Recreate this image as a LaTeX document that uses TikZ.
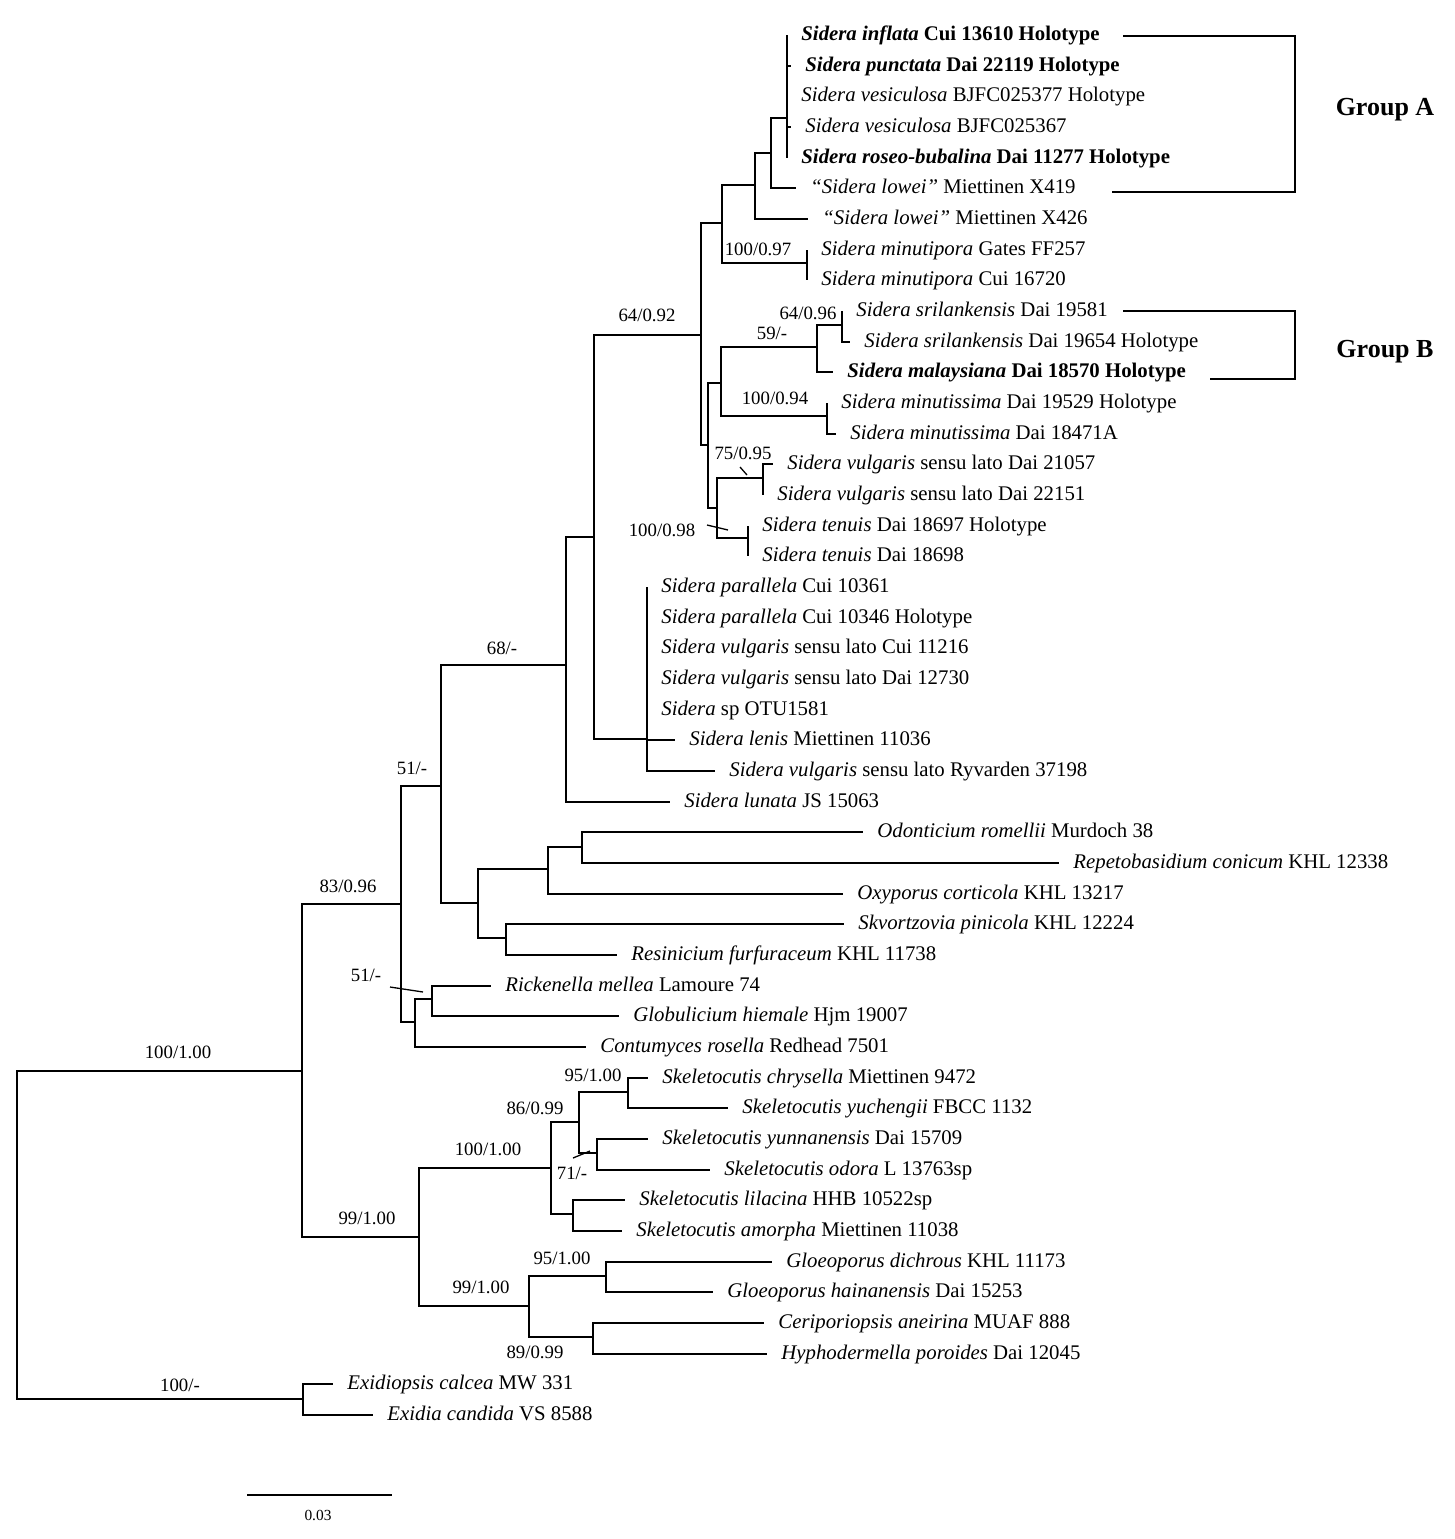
\documentclass[tikz,border=0pt]{standalone}
\usepackage{fontspec}
\setmainfont{Liberation Serif}
\begin{document}
\begin{tikzpicture}[x=0.5pt,y=-0.5pt,
    branch/.style={line width=0.65pt},
    leaf/.style={anchor=west,inner xsep=7pt,inner ysep=0pt,text height=7.5pt,text depth=2.2pt,font=\fontsize{10.4}{12}\selectfont},
    bs/.style={inner sep=0pt,font=\fontsize{9.4}{11}\selectfont},
    grp/.style={line width=1.4pt},
    ]
    \useasboundingbox (0,0) rectangle (1455,1539);
    % leaves
    \node[leaf] (l1) at (787,35) {\textbf{\textit{Sidera inflata} Cui 13610 Holotype}};
    \node[leaf] (l2) at (791,66) {\textbf{\textit{Sidera punctata} Dai 22119 Holotype}};
    \node[leaf] (l3) at (787,96) {\textit{Sidera vesiculosa} BJFC025377 Holotype};
    \node[leaf] (l4) at (791,127) {\textit{Sidera vesiculosa} BJFC025367};
    \node[leaf] (l5) at (787,158) {\textbf{\textit{Sidera roseo-bubalina} Dai 11277 Holotype}};
    \node[leaf] (l6) at (796,188) {\textit{“Sidera lowei”} Miettinen X419};
    \node[leaf] (l7) at (808,219) {\textit{“Sidera lowei”} Miettinen X426};
    \node[leaf] (l8) at (807,250) {\textit{Sidera minutipora} Gates FF257};
    \node[leaf] (l9) at (807,280) {\textit{Sidera minutipora} Cui 16720};
    \node[leaf] (l10) at (842,311) {\textit{Sidera srilankensis} Dai 19581};
    \node[leaf] (l11) at (850,342) {\textit{Sidera srilankensis} Dai 19654 Holotype};
    \node[leaf] (l12) at (833,372) {\textbf{\textit{Sidera malaysiana} Dai 18570 Holotype}};
    \node[leaf] (l13) at (827,403) {\textit{Sidera minutissima} Dai 19529 Holotype};
    \node[leaf] (l14) at (836,434) {\textit{Sidera minutissima} Dai 18471A};
    \node[leaf] (l15) at (773,464) {\textit{Sidera vulgaris} sensu lato Dai 21057};
    \node[leaf] (l16) at (763,495) {\textit{Sidera vulgaris} sensu lato Dai 22151};
    \node[leaf] (l17) at (748,526) {\textit{Sidera tenuis} Dai 18697 Holotype};
    \node[leaf] (l18) at (748,556) {\textit{Sidera tenuis} Dai 18698};
    \node[leaf] (l19) at (647,587) {\textit{Sidera parallela} Cui 10361};
    \node[leaf] (l20) at (647,618) {\textit{Sidera parallela} Cui 10346 Holotype};
    \node[leaf] (l21) at (647,648) {\textit{Sidera vulgaris} sensu lato Cui 11216};
    \node[leaf] (l22) at (647,679) {\textit{Sidera vulgaris} sensu lato Dai 12730};
    \node[leaf] (l23) at (647,710) {\textit{Sidera} sp OTU1581};
    \node[leaf] (l24) at (675,740) {\textit{Sidera lenis} Miettinen 11036};
    \node[leaf] (l25) at (715,771) {\textit{Sidera vulgaris} sensu lato Ryvarden 37198};
    \node[leaf] (l26) at (670,802) {\textit{Sidera lunata} JS 15063};
    \node[leaf] (l27) at (863,832) {\textit{Odonticium romellii} Murdoch 38};
    \node[leaf] (l28) at (1059,863) {\textit{Repetobasidium conicum} KHL 12338};
    \node[leaf] (l29) at (843,894) {\textit{Oxyporus corticola} KHL 13217};
    \node[leaf] (l30) at (844,924) {\textit{Skvortzovia pinicola} KHL 12224};
    \node[leaf] (l31) at (617,955) {\textit{Resinicium furfuraceum} KHL 11738};
    \node[leaf] (l32) at (491,986) {\textit{Rickenella mellea} Lamoure 74};
    \node[leaf] (l33) at (619,1016) {\textit{Globulicium hiemale} Hjm 19007};
    \node[leaf] (l34) at (586,1047) {\textit{Contumyces rosella} Redhead 7501};
    \node[leaf] (l35) at (648,1078) {\textit{Skeletocutis chrysella} Miettinen 9472};
    \node[leaf] (l36) at (728,1108) {\textit{Skeletocutis yuchengii} FBCC 1132};
    \node[leaf] (l37) at (648,1139) {\textit{Skeletocutis yunnanensis} Dai 15709};
    \node[leaf] (l38) at (710,1170) {\textit{Skeletocutis odora} L 13763sp};
    \node[leaf] (l39) at (625,1200) {\textit{Skeletocutis lilacina} HHB 10522sp};
    \node[leaf] (l40) at (622,1231) {\textit{Skeletocutis amorpha} Miettinen 11038};
    \node[leaf] (l41) at (772,1262) {\textit{Gloeoporus dichrous} KHL 11173};
    \node[leaf] (l42) at (713,1292) {\textit{Gloeoporus hainanensis} Dai 15253};
    \node[leaf] (l43) at (764,1323) {\textit{Ceriporiopsis aneirina} MUAF 888};
    \node[leaf] (l44) at (767,1354) {\textit{Hyphodermella poroides} Dai 12045};
    \node[leaf] (l45) at (333,1384) {\textit{Exidiopsis calcea} MW 331};
    \node[leaf] (l46) at (373,1415) {\textit{Exidia candida} VS 8588};
    % internal nodes
    \coordinate (root) at (17,1235);
    \coordinate (nA) at (302,1071);
    \coordinate (nX) at (303,1399);
    \coordinate (nB) at (401,904);
    \coordinate (nP) at (415,1022);
    \coordinate (nQ) at (432,999);
    \coordinate (nC) at (441,786);
    \coordinate (nH) at (478,903);
    \coordinate (nI) at (548,869);
    \coordinate (nK) at (582,847);
    \coordinate (nJ) at (506,938);
    \coordinate (nD) at (566,665);
    \coordinate (nE) at (594,537);
    \coordinate (nG) at (647,739);
    \coordinate (nF) at (701,335);
    \coordinate (nM) at (722,223);
    \coordinate (nT) at (755,185);
    \coordinate (nV) at (771,153);
    \coordinate (nW) at (787,118);
    \coordinate (nU) at (807,263);
    \coordinate (nN) at (708,445);
    \coordinate (nO) at (721,383);
    \coordinate (nZ) at (817,347);
    \coordinate (nAB) at (842,325);
    \coordinate (nAA) at (827,416);
    \coordinate (nY) at (717,508);
    \coordinate (nAC) at (763,478);
    \coordinate (nAD) at (748,538);
    \coordinate (nS) at (419,1237);
    \coordinate (nSA) at (551,1168);
    \coordinate (nSC) at (579,1122);
    \coordinate (nSE) at (628,1092);
    \coordinate (nSF) at (597,1153);
    \coordinate (nSD) at (573,1214);
    \coordinate (nSB) at (529,1306);
    \coordinate (nSG) at (606,1276);
    \coordinate (nSH) at (593,1337);
    % branches
    \draw[branch] (root) |- (nA) (root) |- (nX);
    \draw[branch] (nX) |- (l45.west) (nX) |- (l46.west);
    \draw[branch] (nA) |- (nB) (nA) |- (nS);
    \draw[branch] (nB) |- (nC) (nB) |- (nP);
    \draw[branch] (nP) |- (nQ) (nP) |- (l34.west);
    \draw[branch] (nQ) |- (l32.west) (nQ) |- (l33.west);
    \draw[branch] (nC) |- (nD) (nC) |- (nH);
    \draw[branch] (nH) |- (nI) (nH) |- (nJ);
    \draw[branch] (nI) |- (nK) (nI) |- (l29.west);
    \draw[branch] (nK) |- (l27.west) (nK) |- (l28.west);
    \draw[branch] (nJ) |- (l30.west) (nJ) |- (l31.west);
    \draw[branch] (nD) |- (nE) (nD) |- (l26.west);
    \draw[branch] (nE) |- (nF) (nE) |- (nG);
    \draw[branch] (nG) |- (l19.west) (nG) |- (l20.west) (nG) |- (l21.west) (nG) |- (l22.west)
        (nG) |- (l23.west) (nG) |- (l24.west) (nG) |- (l25.west);
    \draw[branch] (nF) |- (nM) (nF) |- (nN);
    \draw[branch] (nM) |- (nT) (nM) |- (nU);
    \draw[branch] (nU) |- (l8.west) (nU) |- (l9.west);
    \draw[branch] (nT) |- (nV) (nT) |- (l7.west);
    \draw[branch] (nV) |- (nW) (nV) |- (l6.west);
    \draw[branch] (nW) |- (l1.west) (nW) |- (l2.west) (nW) |- (l3.west) (nW) |- (l4.west) (nW) |- (l5.west);
    \draw[branch] (nN) |- (nO) (nN) |- (nY);
    \draw[branch] (nO) |- (nZ) (nO) |- (nAA);
    \draw[branch] (nZ) |- (nAB) (nZ) |- (l12.west);
    \draw[branch] (nAB) |- (l10.west) (nAB) |- (l11.west);
    \draw[branch] (nAA) |- (l13.west) (nAA) |- (l14.west);
    \draw[branch] (nY) |- (nAC) (nY) |- (nAD);
    \draw[branch] (nAC) |- (l15.west) (nAC) |- (l16.west);
    \draw[branch] (nAD) |- (l17.west) (nAD) |- (l18.west);
    \draw[branch] (nS) |- (nSA) (nS) |- (nSB);
    \draw[branch] (nSA) |- (nSC) (nSA) |- (nSD);
    \draw[branch] (nSC) |- (nSE) (nSC) |- (nSF);
    \draw[branch] (nSE) |- (l35.west) (nSE) |- (l36.west);
    \draw[branch] (nSF) |- (l37.west) (nSF) |- (l38.west);
    \draw[branch] (nSD) |- (l39.west) (nSD) |- (l40.west);
    \draw[branch] (nSB) |- (nSG) (nSB) |- (nSH);
    \draw[branch] (nSG) |- (l41.west) (nSG) |- (l42.west);
    \draw[branch] (nSH) |- (l43.west) (nSH) |- (l44.west);
    % support values
    \node[bs] (sA) at (178,1052) {100/1.00};
    \node[bs] (sX) at (180,1385) {100/-};
    \node[bs] (sB) at (348,886) {83/0.96};
    \node[bs] (sC) at (412,768) {51/-};
    \node[bs] (sD) at (502,648) {68/-};
    \node[bs] (sF) at (647,315) {64/0.92};
    \node[bs] (sU) at (758,249) {100/0.97};
    \node[bs] (sAB) at (808,313) {64/0.96};
    \node[bs] (sZ) at (772,333) {59/-};
    \node[bs] (sAA) at (775,398) {100/0.94};
    \node[bs] (sAC) at (743,453) {75/0.95};
    \node[bs] (sAD) at (662,530) {100/0.98};
    \node[bs] (sQ) at (366,975) {51/-};
    \node[bs] (sSE) at (593,1075) {95/1.00};
    \node[bs] (sSC) at (535,1108) {86/0.99};
    \node[bs] (sSA) at (488,1149) {100/1.00};
    \node[bs] (sSF) at (572,1173) {71/-};
    \node[bs] (sS) at (367,1218) {99/1.00};
    \node[bs] (sSB) at (481,1287) {99/1.00};
    \node[bs] (sSG) at (562,1258) {95/1.00};
    \node[bs] (sSH) at (535,1352) {89/0.99};
    \draw[branch] (740,467) -- (747,475);
    \draw[branch] (707,525) -- (728,530);
    \draw[branch] (390,987) -- (423,992);
    \draw[branch] (573,1158) -- (590,1151);
    % groups
    \draw[grp] (1123,36) -- (1295,36) -- (1295,192) -- (1112,192);
    \draw[grp] (1123,311) -- (1295,311) -- (1295,379) -- (1210,379);
    \node[font=\fontsize{13}{15}\selectfont\bfseries] (gA) at (1385,110) {Group A};
    \node[font=\fontsize{13}{15}\selectfont\bfseries] (gB) at (1385,352) {Group B};
    % scale bar
    \draw[line width=0.9pt] (247,1495) -- (392,1495);
    \node[font=\fontsize{7.7}{9}\selectfont] (scl) at (318,1515) {0.03};
\end{tikzpicture}
\end{document}
